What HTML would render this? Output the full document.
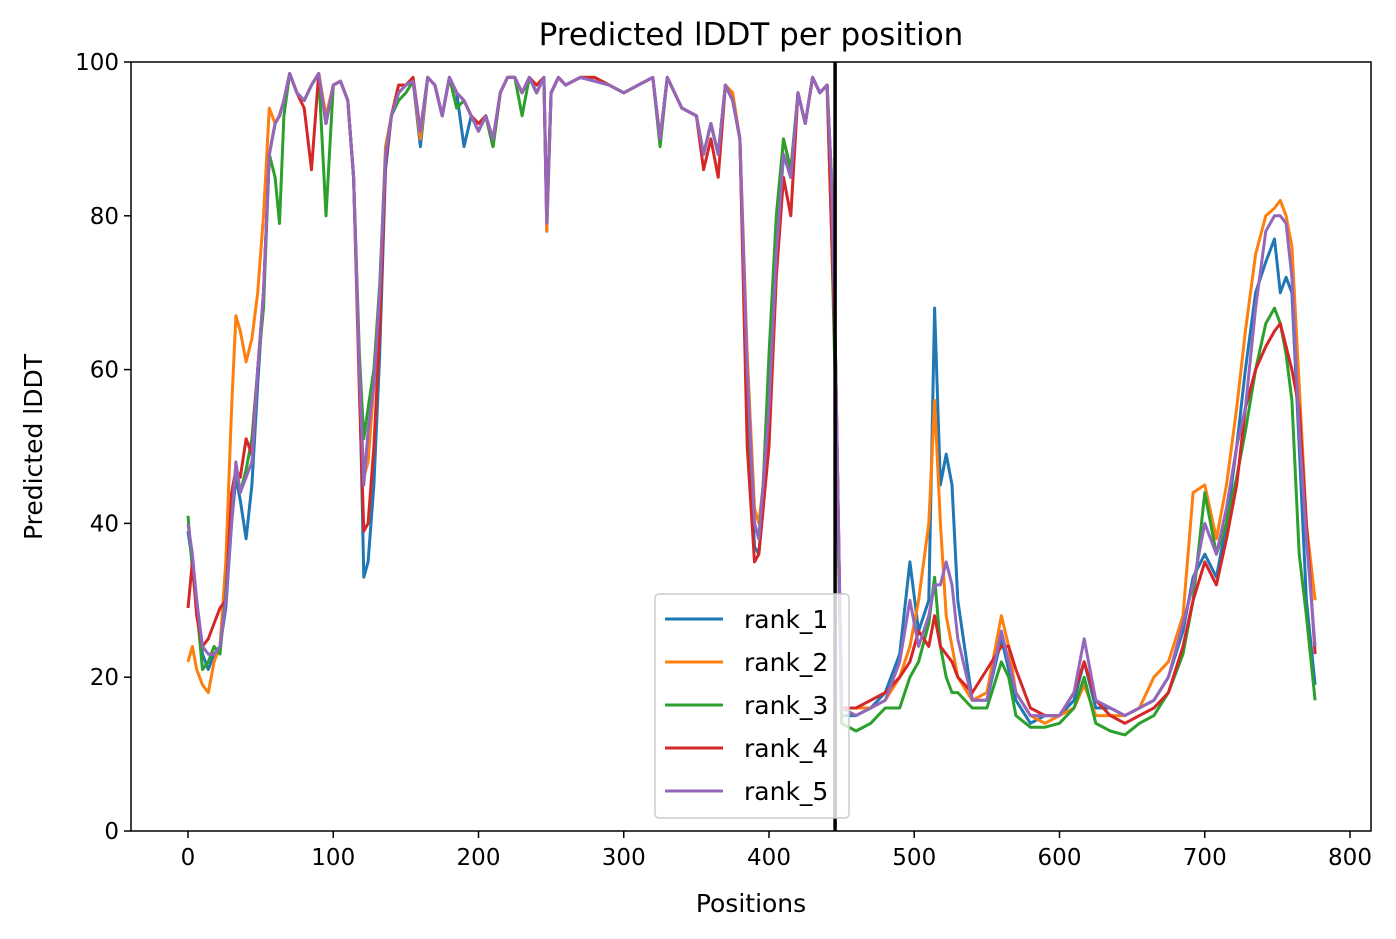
<!DOCTYPE html>
<html><head><meta charset="utf-8">
<style>
body{margin:0;background:#fff;}
svg{display:block;font-family:"DejaVu Sans","Liberation Sans",sans-serif;}
</style></head>
<body>
<svg id="chart" width="1396" height="939" viewBox="0 0 1396 939">
<rect x="0" y="0" width="1396" height="939" fill="#fff"/>
<text x="751" y="45" text-anchor="middle" font-size="31">Predicted lDDT per position</text>
<text x="751" y="912" text-anchor="middle" font-size="25">Positions</text>
<text transform="translate(42,447) rotate(-90)" text-anchor="middle" font-size="25">Predicted lDDT</text>
<g id="ticks"></g>
<g id="series"></g>
<g id="overlay"></g>
</svg>
<script>
const positions=[0,3,6,10,14,18,22,26,30,33,36,40,44,48,52,56,60,63,66,70,75,80,85,90,95,100,105,110,114,118,121,124,128,132,136,140,145,150,155,160,165,170,175,180,185,190,195,200,205,210,215,220,225,230,235,240,245,247,250,255,260,270,280,290,300,310,320,325,330,340,350,355,360,365,370,375,380,385,390,393,396,400,405,410,415,420,425,430,435,440,443,446,450,460,470,480,490,497,503,510,514,518,522,526,530,540,550,560,565,570,580,590,600,610,617,625,635,645,655,665,675,685,692,700,708,715,722,728,735,742,748,752,756,760,765,770,776];
const rank1=[39,35,30,23,21,23,24,29,40,46,43,38,45,58,70,88,92,93,95,98.5,96,95,97,98.5,92,97,97.5,95,85,60,33,35,45,62,86,93,96,97,97.5,89,98,97,93,98,96,89,93,91,93,89,96,98,98,96,98,96,98,78,96,98,97,98,97.5,97,96,97,98,90,98,94,93,88,92,88,97,95,90,55,37,36,42,55,75,88,85,96,92,98,96,97,85,60,15,15,16,18,23,35,26,30,68,45,49,45,30,17,17,25,21,17,14,15,15,17,22,16,16,15,16,17,20,26,33,36,33,40,50,60,70,74,77,70,72,70,50,30,19];
const rank2=[22,24,21,19,18,22,24,35,55,67,65,61,64,70,80,94,92,93,95,98.5,96,95,97,98.5,93,97,97.5,95,85,60,46,48,58,70,89,93,97,97,97.5,90,98,97,93,98,96,95,93,91,93,89,96,98,98,96,98,96,98,78,96,98,97,98,98,97,96,97,98,90,98,94,93,88,92,88,97,96,90,62,42,40,45,60,78,90,86,96,92,98,96,97,85,60,16,16,16,17,20,24,30,40,56,40,28,24,20,17,18,28,24,18,15,14,15,16,19,15,15,15,16,20,22,28,44,45,38,45,55,65,75,80,81,82,80,76,58,40,30];
const rank3=[41,34,29,21,22,24,23,31,42,47,44,47,51,60,68,88,85,79,93,98.5,96,95,97,98.5,80,97,97.5,95,85,62,51,55,60,71,88,93,95,96,97.5,91,98,97,93,98,94,95,93,91,93,89,96,98,98,93,98,96,98,80,96,98,97,98,98,97,96,97,98,89,98,94,93,88,92,88,97,95,90,56,40,38,45,62,80,90,86,96,92,98,96,97,78,55,14,13,14,16,16,20,22,27,33,24,20,18,18,16,16,22,20,15,13.5,13.5,14,16,20,14,13,12.5,14,15,18,23,30,44,36,40,46,52,60,66,68,66,62,56,36,28,17];
const rank4=[29,35,28,24,25,27,29,30,44,47,46,51,49,60,70,88,92,93,95,98.5,96,94,86,98.5,92,97,97.5,95,85,57,39,40,50,65,87,93,97,97,98,91,98,97,93,98,96,95,93,92,93,90,96,98,98,96,98,97,98,80,96,98,97,98,98,97,96,97,98,90,98,94,93,86,90,85,97,95,90,50,35,36,42,50,72,85,80,96,92,98,96,97,78,60,16,16,17,18,20,22,26,24,28,24,23,22,20,18,21,24,24,21,16,15,15,18,22,17,15,14,15,16,18,24,30,35,32,38,45,55,60,63,65,66,63,60,55,40,23];
const rank5=[40,36,30,24,23,23,24,30,40,48,44,46,48,60,70,88,92,93,95,98.5,96,95,97,98.5,92,97,97.5,95,85,60,45,52,58,70,88,93,96,97,97.5,91,98,97,93,98,96,95,93,91,93,90,96,98,98,96,98,96,98,79,96,98,97,98,97.5,97,96,97,98,90,98,94,93,88,92,88,97,95,90,60,40,38,45,55,75,88,85,96,92,98,96,97,85,60,16,15,16,17,22,30,24,28,32,32,35,32,25,17,17,26,22,18,15,15,15,18,25,17,16,15,16,17,20,27,32,40,36,42,50,55,68,78,80,80,79,72,52,38,24];
const seriesNames=["rank_1","rank_2","rank_3","rank_4","rank_5"];
const xTicks=[0,100,200,300,400,500,600,700,800];
const yTicks=[0,20,40,60,80,100];
const divider=445.5;

const NS="http://www.w3.org/2000/svg";
const L=131,R=1371,T=62,B=831;
const xs=v=>188+v*1.4525;
const ys=v=>B-(v/100)*(B-T);
const colors=["#1f77b4","#ff7f0e","#2ca02c","#d62728","#9467bd"];
const allSeries=[rank1,rank2,rank3,rank4,rank5];
function mk(tag,attrs,parent){const e=document.createElementNS(NS,tag);for(const k in attrs)e.setAttribute(k,attrs[k]);parent.appendChild(e);return e;}
const tg=document.getElementById('ticks');
xTicks.forEach(t=>{
  const l=mk('line',{x1:xs(t),x2:xs(t),y1:B,y2:B+7,stroke:'#000','stroke-width':1.5},tg);
  
  
  const tx=mk('text',{x:xs(t),y:B+34,'text-anchor':'middle','font-size':23},tg);
  tx.textContent=t;
  
  
});
yTicks.forEach(t=>{
  const l=mk('line',{x1:L-7,x2:L,y1:ys(t),y2:ys(t),stroke:'#000','stroke-width':1.5},tg);
  
  
  const tx=mk('text',{x:L-12,y:ys(t)+8,'text-anchor':'end','font-size':23},tg);
  tx.textContent=t;
  
  
});
const sg=document.getElementById('series');
allSeries.forEach((s,i)=>{
  const d=s.map((v,j)=>(j?'L':'M')+xs(positions[j]).toFixed(1)+' '+ys(v).toFixed(1)).join(' ');
  const p=mk('path',{d:d,fill:'none',stroke:colors[i],'stroke-width':3,'stroke-linejoin':'round'},sg);
  
  
});
const og=document.getElementById('overlay');
const dv=mk('line',{x1:xs(divider),x2:xs(divider),y1:T,y2:B,stroke:'#000','stroke-width':3.5},og);


const fr=mk('rect',{x:L,y:T,width:R-L,height:B-T,fill:'none',stroke:'#000','stroke-width':1.5},og);


const lg=mk('g',{},og);


const lb=mk('rect',{x:655,y:594,width:194,height:224,rx:4,fill:'rgba(255,255,255,0.8)',stroke:'#ccc','stroke-width':1.5},lg);


seriesNames.forEach((n,i)=>{
  const y=619+i*43;
  const ln=mk('line',{x1:665,x2:723,y1:y,y2:y,stroke:colors[i],'stroke-width':3},lg);
  
  
  const tx=mk('text',{x:744,y:y+9,'font-size':25},lg);
  tx.textContent=n;
  
  
});
</script>
</body></html>
